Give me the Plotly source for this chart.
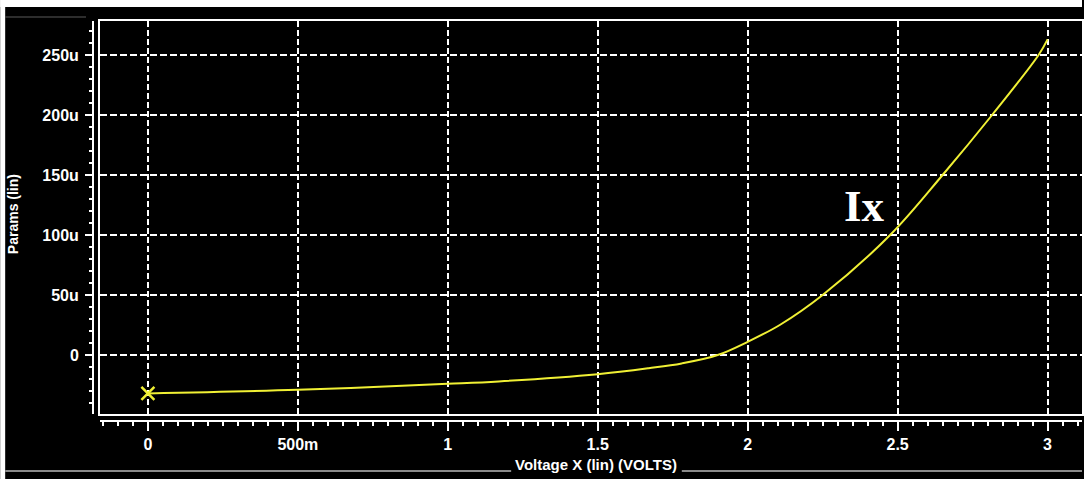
import plotly.graph_objects as go

# ---- data (voltage in V, current in µA) ----
voltage = [0.0, 0.5, 1.0, 1.17, 1.5, 1.67, 1.78, 1.9, 2.0, 2.107, 2.25, 2.475, 2.65, 2.815, 2.97, 3.0]
current_u = [-32.0, -29.0, -24.0, -22.0, -16.0, -11.0, -7.0, 0.0, 11.0, 25.0, 50.0, 100.0, 150.0, 200.0, 250.0, 263.0]

x_tickvals = [0, 0.5, 1, 1.5, 2, 2.5, 3]
x_ticktext = ["0", "500m", "1", "1.5", "2", "2.5", "3"]
y_tickvals = [0, 50, 100, 150, 200, 250]
y_ticktext = ["0", "50u", "100u", "150u", "200u", "250u"]

series_label = "Ix"
x_title = "Voltage X (lin) (VOLTS)"
y_title = "Params (lin)"

# ---- geometry ----
W, H = 1084, 479
ML, MR, MT, MB = 93, 0, 21, 58
PW, PH = W - ML - MR, H - MT - MB


def px_x(p):
    return (p - ML) / PW


def px_y(p):
    return (H - MB - p) / PH


XR = [(100 - 148) / 300.5, (1084 - 148) / 300.5]
YR = [-(414 - 355) / 1.2, (355 - 21) / 1.2]
XDOM = [px_x(100), 1]
YDOM = [px_y(414), 1]

YEL = "#f0f034"
SANS = "Liberation Sans, Arial, sans-serif"
TICKFONT = dict(family=SANS, size=16, color="white")

fig = go.Figure()
# invisible trace to hold the ruler axes (drawn first, underneath)
fig.add_trace(go.Scatter(x=voltage, y=current_u, xaxis="x2", yaxis="y2", mode="lines",
                         line=dict(width=0), opacity=0, hoverinfo="skip", showlegend=False))
fig.add_trace(go.Scatter(x=voltage, y=current_u, mode="lines",
                         line=dict(color=YEL, width=2, shape="spline", smoothing=1.0),
                         hoverinfo="skip", showlegend=False))
fig.add_trace(go.Scatter(x=voltage[:1], y=current_u[:1], mode="markers",
                         marker=dict(symbol="x-thin", size=13, line=dict(color=YEL, width=2.5)),
                         hoverinfo="skip", showlegend=False))

fig.update_layout(
    width=W, height=H,
    margin=dict(l=ML, r=MR, t=MT, b=MB, pad=0),
    paper_bgcolor="black", plot_bgcolor="rgba(0,0,0,0)",
    xaxis=dict(domain=XDOM, range=XR, showticklabels=False, ticks="",
               showgrid=True, gridcolor="white", gridwidth=2, griddash="6px,3px",
               tickvals=x_tickvals, zeroline=False,
               showline=True, mirror=True, linecolor="white", linewidth=2),
    yaxis=dict(domain=YDOM, range=YR, showticklabels=False, ticks="",
               showgrid=True, gridcolor="white", gridwidth=2, griddash="7px,3px",
               tickvals=y_tickvals, zeroline=False,
               showline=True, mirror=True, linecolor="white", linewidth=2),
    xaxis2=dict(domain=XDOM, range=XR, anchor="free", position=0, side="bottom",
                showgrid=False, zeroline=False, showline=True, linecolor="white", linewidth=2,
                tickvals=x_tickvals, ticktext=[f"<b>{t}</b>" for t in x_ticktext],
                ticks="outside", ticklen=9,
                tickwidth=2, tickcolor="white", tickfont=TICKFONT,
                minor=dict(dtick=0.05, tick0=0, ticks="outside", ticklen=4, tickwidth=2,
                           tickcolor="white", showgrid=False)),
    yaxis2=dict(domain=YDOM, range=YR, anchor="free", position=0, side="left",
                showgrid=False, zeroline=False, showline=True, linecolor="white", linewidth=2,
                tickvals=y_tickvals, ticktext=[f"<b>{t}</b>" for t in y_ticktext],
                ticks="outside", ticklen=7, ticklabelstandoff=3,
                tickwidth=2, tickcolor="white", tickfont=TICKFONT,
                minor=dict(dtick=10, tick0=0, ticks="outside", ticklen=3, tickwidth=2,
                           tickcolor="white", showgrid=False)),
    shapes=[
        dict(type="rect", xref="paper", yref="paper", x0=px_x(0), x1=px_x(W), y0=px_y(7), y1=px_y(0),
             fillcolor="white", line=dict(width=0), layer="above"),
        dict(type="rect", xref="paper", yref="paper", x0=px_x(0), x1=px_x(5), y0=px_y(H), y1=px_y(0),
             fillcolor="white", line=dict(width=0), layer="above"),
        dict(type="line", xref="paper", yref="paper", x0=px_x(5), x1=px_x(512), y0=px_y(471), y1=px_y(471),
             line=dict(color="#8a8a8a", width=2)),
        dict(type="line", xref="paper", yref="paper", x0=px_x(683), x1=px_x(W), y0=px_y(471), y1=px_y(471),
             line=dict(color="#8a8a8a", width=2)),
        dict(type="line", xref="paper", yref="paper", x0=px_x(5), x1=px_x(86), y0=px_y(17), y1=px_y(17),
             line=dict(color="#5a5a5a", width=1)),
    ],
    annotations=[
        dict(text=f"<b>{series_label}</b>", x=2.39, y=124, xref="x", yref="y", showarrow=False,
             xanchor="center", yanchor="middle",
             font=dict(family="Liberation Serif, Times New Roman, serif", size=45, color="white")),
        dict(text=f"<b>{x_title}</b>", x=px_x(597), y=px_y(464), xref="paper", yref="paper",
             showarrow=False, xanchor="center", yanchor="middle",
             font=dict(family=SANS, size=15, color="white")),
        dict(text=f"<b>{y_title}</b>", x=px_x(13), y=px_y(214), xref="paper", yref="paper",
             showarrow=False, xanchor="center", yanchor="middle", textangle=-90,
             font=dict(family=SANS, size=14, color="white")),
    ],
)

fig.write_html("out.html", config={"displayModeBar": False},
               post_script="document.body.style.margin='0';document.body.style.overflow='hidden';")
